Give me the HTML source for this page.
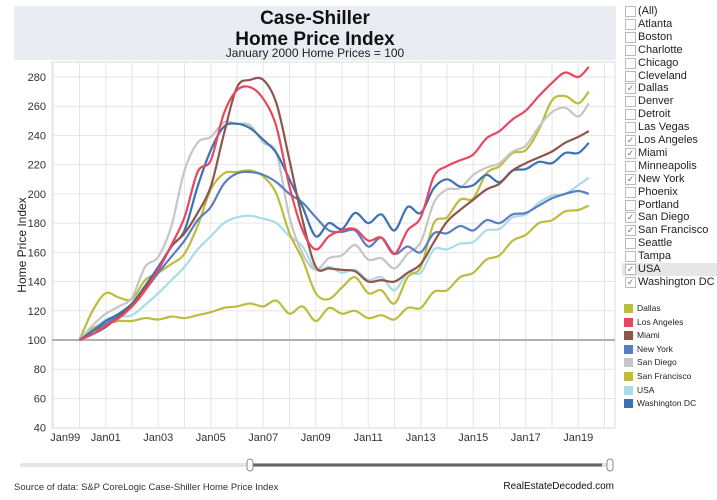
<!DOCTYPE html>
<html><head><meta charset="utf-8"><style>
body{margin:0;width:717px;height:500px;background:#fff;font-family:"Liberation Sans",sans-serif;position:relative;overflow:hidden}
.t{position:absolute;white-space:nowrap}
</style></head><body>
<div style="position:absolute;left:14px;top:6px;width:602px;height:54px;background:#e9ecf3"></div>
<div class="t" style="left:14px;width:602px;top:8px;text-align:center;font-weight:bold;font-size:19px;line-height:21px;color:#111">Case-Shiller<br>Home Price Index</div>
<div class="t" style="left:14px;width:602px;top:46px;text-align:center;font-size:12px;color:#222">January 2000 Home Prices = 100</div>
<svg id="chart" width="717" height="500" style="position:absolute;left:0;top:0"></svg>
<div id="filters"></div>
<div id="legend"></div>
<div class="t" style="left:14px;top:482px;font-size:9.5px;color:#333">Source of data: S&amp;P CoreLogic Case-Shiller Home Price Index</div>
<div class="t" style="right:103px;top:481px;font-size:10px;color:#111">RealEstateDecoded.com</div>
<script>
const dates=[2000,2000.5,2001,2001.5,2002,2002.5,2003,2003.5,2004,2004.5,2005,2005.5,2006,2006.5,2007,2007.5,2008,2008.5,2009,2009.5,2010,2010.5,2011,2011.5,2012,2012.5,2013,2013.5,2014,2014.5,2015,2015.5,2016,2016.5,2017,2017.5,2018,2018.5,2019,2019.4];
const dallas=[100,108,111,113,113,115,114,116,115,117,119,122,123,125,123,127,118,123,113,122,118,120,115,117,114,122,122,133,134,143,146,155,158,168,172,180,182,188,189,192];
const losAngeles=[100,104,110,115,123,134,148,165,184,215,223,255,271,273,265,246,205,175,162,171,175,176,168,170,159,175,184,212,219,223,227,238,243,251,257,267,276,283,280,287];
const miami=[100,104,109,116,124,136,148,164,173,187,205,241,273,278,278,262,223,182,150,149,148,147,140,141,140,146,152,167,181,189,196,203,207,216,221,225,229,235,239,243];
const newYork=[100,106,111,117,123,134,146,157,168,182,191,207,214,215,213,208,200,194,184,175,174,175,164,170,159,164,160,173,173,178,175,182,180,186,187,192,197,200,202,200];
const sanDiego=[100,110,118,123,129,150,157,178,216,235,239,249,248,247,235,228,184,159,148,156,158,165,155,156,149,159,167,194,203,204,213,218,221,229,233,246,256,259,253,262];
const sanFrancisco=[100,120,132,129,128,141,146,152,159,178,203,214,215,216,212,200,173,155,132,128,136,143,132,134,125,143,150,180,184,196,197,214,219,228,230,244,264,267,262,270];
const usa=[100,107,114,116,117,124,132,141,150,162,171,180,184,185,183,180,171,164,148,150,146,148,141,143,134,146,146,162,162,166,167,175,176,184,186,194,199,200,206,211];
const washingtonDC=[100,106,113,118,125,137,150,164,175,205,230,246,248,245,237,228,210,191,171,180,176,187,180,186,175,191,187,204,210,205,206,213,208,216,217,222,221,228,228,235];
const seriesNames=["Dallas","Los Angeles","Miami","New York","San Diego","San Francisco","USA","Washington DC"];
const seriesColors=["#bcbd3c","#e8485f","#8c564b","#5a7ec2","#c6c6c6","#bcbd3c","#a9dbe8","#3a73b4"];
const seriesData=[dallas,losAngeles,miami,newYork,sanDiego,sanFrancisco,usa,washingtonDC];
const yTicks=[40,60,80,100,120,140,160,180,200,220,240,260,280];
const xTickYears=[1999,2001,2003,2005,2007,2009,2011,2013,2015,2017,2019];
const xTickLabels=["Jan99","Jan01","Jan03","Jan05","Jan07","Jan09","Jan11","Jan13","Jan15","Jan17","Jan19"];
const cities=["(All)","Atlanta","Boston","Charlotte","Chicago","Cleveland","Dallas","Denver","Detroit","Las Vegas","Los Angeles","Miami","Minneapolis","New York","Phoenix","Portland","San Diego","San Francisco","Seattle","Tampa","USA","Washington DC"];
const checked=["Dallas","Los Angeles","Miami","New York","San Diego","San Francisco","USA","Washington DC"];

const X=t=>79.5+26.25*(t-2000);
const Y=v=>340-1.461*(v-100);
const svg=document.getElementById('chart');
const NS='http://www.w3.org/2000/svg';
function mk(tag,attrs,parent){const e=document.createElementNS(NS,tag);for(const k in attrs)e.setAttribute(k,attrs[k]);(parent||svg).appendChild(e);return e;}
const L=52,R=615,T=62,B=428;
const frame=mk('rect',{x:L,y:T,width:R-L,height:B-T,fill:'none',stroke:'#ddd','stroke-width':1});


for(let yr=1999;yr<=2020;yr++){
  const g=mk('line',{x1:X(yr),x2:X(yr),y1:T,y2:B,stroke:'#e6e6e6','stroke-width':1});
  
  
}
yTicks.forEach(v=>{
  const g=mk('line',{x1:L,x2:R,y1:Y(v),y2:Y(v),stroke:v===100?'#b0b0b0':'#e6e6e6','stroke-width':v===100?2:1});
  
  
  const tx=mk('text',{x:46,y:Y(v)+4,'text-anchor':'end','font-size':11,fill:'#333','font-family':'Liberation Sans, sans-serif'});
  tx.textContent=v;
  
  
});
xTickYears.forEach((yr,i)=>{
  const xx=i===0?X(yr)+12:X(yr);
  const tx=mk('text',{x:xx,y:441,'text-anchor':'middle','font-size':11,fill:'#333','font-family':'Liberation Sans, sans-serif'});
  tx.textContent=xTickLabels[i];
  
  
});
const yt=mk('text',{x:0,y:0,transform:'translate(26,245) rotate(-90)','text-anchor':'middle','font-size':12,fill:'#222','font-family':'Liberation Sans, sans-serif'});
yt.textContent='Home Price Index';


function smooth(pts){
  let d='M'+pts[0][0]+','+pts[0][1];
  for(let i=0;i<pts.length-1;i++){
    const p0=pts[Math.max(0,i-1)],p1=pts[i],p2=pts[i+1],p3=pts[Math.min(pts.length-1,i+2)];
    const c1=[p1[0]+(p2[0]-p0[0])/6,p1[1]+(p2[1]-p0[1])/6];
    const c2=[p2[0]-(p3[0]-p1[0])/6,p2[1]-(p3[1]-p1[1])/6];
    d+=' C'+c1.join(',')+' '+c2.join(',')+' '+p2.join(',');
  }
  return d;
}
const order=[6,0,5,4,3,7,2,1];
order.forEach(i=>{
  const pts=dates.map((t,j)=>[X(t).toFixed(1),Y(seriesData[i][j]).toFixed(1)].map(Number));
  const p=mk('path',{d:smooth(pts),fill:'none',stroke:seriesColors[i],'stroke-width':2.2,'stroke-linejoin':'round'});
  
  
});
const tr=mk('line',{x1:22,x2:612,y1:465,y2:465,stroke:'#e4e4e4','stroke-width':4,'stroke-linecap':'round'});


const sel=mk('line',{x1:252,x2:602,y1:465,y2:465,stroke:'#666','stroke-width':3});


[250,610].forEach((hx,k)=>{
  const h=mk('rect',{x:hx-3,y:459,width:6,height:12,rx:3,fill:'#fff',stroke:'#888','stroke-width':1});
  
  
});
const fd=document.getElementById('filters');
cities.forEach((c,i)=>{
  const y=5+i*12.9;
  const row=document.createElement('div');
  row.className='t';
  row.style.cssText='left:622px;top:'+y+'px;width:95px;height:13px;'+(c==='USA'?'background:#e6e6e6;':'');
  
  
  const on=checked.includes(c);
  row.innerHTML='<span style="position:absolute;left:3px;top:1px;width:9px;height:9px;border:1px solid #bbb;background:#fff;font-size:9px;line-height:9px;text-align:center;color:#777">'+(on?'✓':'')+'</span><span style="position:absolute;left:16px;top:0;font-size:11px;line-height:13px;color:#222">'+c+'</span>';
  fd.appendChild(row);
});
const ld=document.getElementById('legend');
seriesNames.forEach((n,i)=>{
  const y=304+i*13.6;
  const row=document.createElement('div');
  row.className='t';
  row.style.cssText='left:624px;top:'+y+'px;height:10px;';
  
  
  row.innerHTML='<span style="position:absolute;left:0;top:0;width:9px;height:9px;background:'+seriesColors[i]+'"></span><span style="position:absolute;left:13px;top:-1px;font-size:8.5px;line-height:11px;color:#222">'+n+'</span>';
  ld.appendChild(row);
});
</script>
</body></html>
